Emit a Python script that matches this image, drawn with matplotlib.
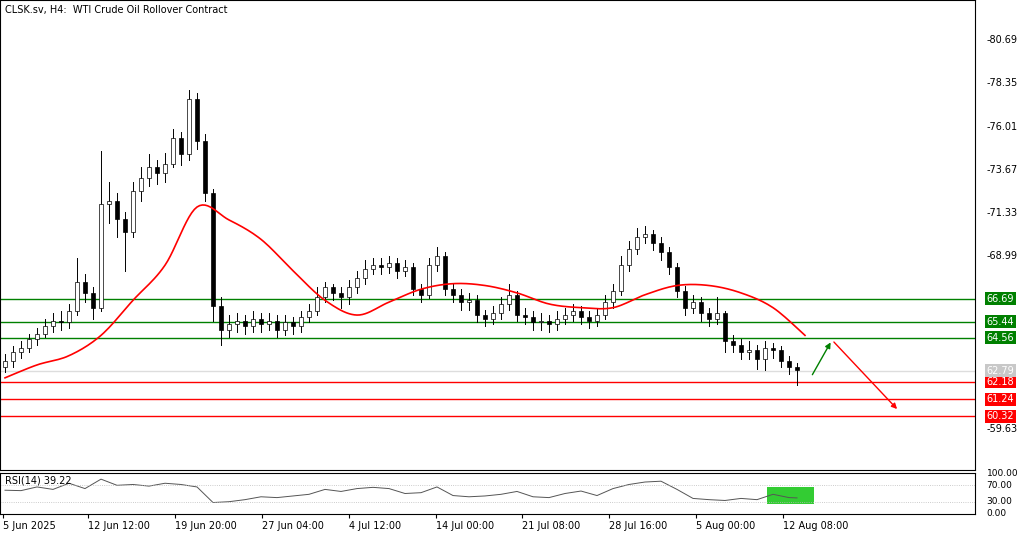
import matplotlib
matplotlib.use("Agg")
import matplotlib.pyplot as plt
import matplotlib.transforms as mtransforms
from matplotlib.patches import Rectangle
import numpy as np

closes = [63.3,63.8,64.0,64.5,64.8,65.2,65.5,65.4,66.0,67.6,67.0,66.2,71.8,72.0,71.0,70.3,72.5,73.2,73.8,73.5,
          74.0,75.4,74.5,77.5,75.2,72.4,66.3,65.0,65.3,65.5,65.2,65.6,65.3,65.5,65.0,65.4,65.2,65.7,66.0,66.8,
          67.3,67.0,66.8,67.3,67.8,68.3,68.5,68.4,68.6,68.2,68.4,67.2,66.9,68.5,69.0,67.2,66.9,66.5,66.6,65.8,
          65.6,65.9,66.4,66.9,65.8,65.7,65.4,65.5,65.3,65.6,65.8,66.0,65.7,65.5,65.8,66.5,67.1,68.5,69.4,70.0,
          70.2,69.7,69.2,68.4,67.1,66.2,66.5,65.9,65.6,65.9,64.4,64.2,63.8,63.9,63.4,64.0,63.9,63.3,63.0,62.8]
highs = [63.7,64.1,64.4,64.8,65.1,65.6,65.9,66.0,66.4,68.9,68.0,67.3,74.7,73.0,72.4,71.4,73.0,73.8,74.5,74.2,
         74.6,75.9,75.7,78.0,77.8,75.6,72.6,66.8,65.8,65.9,65.8,66.0,65.9,65.9,65.8,65.8,65.7,66.0,66.4,67.3,
         67.6,67.5,67.3,67.7,68.2,68.8,68.9,68.9,69.0,68.9,68.8,68.6,67.5,68.9,69.5,69.2,67.5,67.2,67.0,66.9,
         66.1,66.3,66.8,67.5,67.1,66.2,66.0,65.9,65.8,66.0,66.2,66.4,66.3,66.0,66.2,66.9,67.5,69.0,69.8,70.5,
         70.6,70.4,70.0,69.5,68.6,67.4,66.9,66.8,66.2,66.8,66.0,64.7,64.5,64.4,64.2,64.4,64.3,64.1,63.6,63.2]
lows = [62.7,63.0,63.5,63.8,64.2,64.6,64.9,65.0,65.1,65.8,66.5,65.6,66.0,70.8,70.0,68.2,70.0,72.0,72.8,72.9,
        73.0,73.8,73.9,74.2,74.8,72.0,65.5,64.2,64.6,64.9,64.8,64.9,64.9,65.0,64.6,64.7,64.8,64.9,65.4,65.8,
        66.5,66.6,66.2,66.4,67.0,67.5,68.0,68.0,68.1,67.8,67.9,66.9,66.5,66.7,68.2,66.9,66.5,66.1,66.1,65.4,
        65.2,65.3,65.6,66.1,65.5,65.3,65.0,65.0,64.9,65.0,65.3,65.5,65.3,65.1,65.2,65.6,66.2,66.9,68.2,69.1,
        69.7,69.3,68.8,68.0,66.8,65.8,65.9,65.5,65.2,65.3,63.8,63.8,63.4,63.4,62.9,62.8,63.5,63.0,62.6,62.0]
first_open = 63.0

ma_values = [62.4,63.1,63.6,64.7,66.6,68.5,71.65,70.95,69.9,68.2,66.6,65.8,66.5,67.2,67.5,67.4,67.0,66.4,
             66.2,66.2,66.9,67.4,67.4,67.0,66.2,64.7]
rsi_values = [58,57,66,60,75,62,85,70,72,68,75,72,66,28,30,35,42,40,44,48,60,55,62,65,62,50,52,66,45,42,
              44,48,55,42,40,50,56,45,62,72,78,80,60,38,35,33,38,35,48,40,39.22]

green_levels = [66.69, 65.44, 64.56]
red_levels = [62.18, 61.24, 60.32]
current_price = 62.79
axis_ticks = [80.69, 78.35, 76.01, 73.67, 71.33, 68.99, 59.63]
x_tick_labels = ["5 Jun 2025","12 Jun 12:00","19 Jun 20:00","27 Jun 04:00","4 Jul 12:00",
                 "14 Jul 00:00","21 Jul 08:00","28 Jul 16:00","5 Aug 00:00","12 Aug 08:00"]
x_tick_px = [3, 88, 175, 262, 349, 436, 522, 609, 696, 783]

def px2i(px):
    return (px - 5) / 8.0

def smooth(xs, ys, n=12):
    # Catmull-Rom curve through the given points (drawing only)
    xs = np.asarray(xs, float); ys = np.asarray(ys, float)
    P = np.column_stack([xs, ys])
    P = np.vstack([P[0], P, P[-1]])
    out = []
    t = np.linspace(0, 1, n, endpoint=False)[:, None]
    for k in range(1, len(P) - 2):
        p0, p1, p2, p3 = P[k-1], P[k], P[k+1], P[k+2]
        seg = 0.5 * ((2*p1) + (-p0 + p2)*t + (2*p0 - 5*p1 + 4*p2 - p3)*t**2 + (-p0 + 3*p1 - 3*p2 + p3)*t**3)
        out.append(seg)
    out.append(P[-2][None, :])
    out = np.vstack(out)
    return out[:, 0], out[:, 1]

fig = plt.figure(figsize=(10.24, 5.33), dpi=100)
ax = fig.add_axes([0, 63/533, 975/1024, 470/533])
rax = fig.add_axes([0, 19/533, 975/1024, 41/533])
ax.set_xlim(px2i(0), px2i(975))
rax.set_xlim(px2i(0), px2i(975))
ax.set_ylim(57.41, 82.86)
rax.set_ylim(0, 100)

opens = [first_open] + closes[:-1]
for i, (o, h, l, c) in enumerate(zip(opens, highs, lows, closes)):
    ax.plot([i, i], [l, h], color="black", lw=0.7, zorder=3)
    fc = "white" if c >= o else "black"
    ax.add_patch(Rectangle((i - 0.25, min(o, c)), 0.5, max(abs(c - o), 0.05),
                           facecolor=fc, edgecolor="black", lw=0.5, zorder=4))

ma_x = list(range(0, 101, 4))
sx, sy = smooth(ma_x, ma_values)
ax.plot(sx, sy, color="red", lw=1.2, zorder=5)

trans = mtransforms.blended_transform_factory(ax.transAxes, ax.transData)
for lv in green_levels:
    ax.axhline(lv, color="green", lw=1.0, zorder=2)
for lv in red_levels:
    ax.axhline(lv, color="red", lw=1.0, zorder=2)
ax.axhline(current_price, color="#dddddd", lw=1.0, zorder=1)

for t in axis_ticks:
    ax.text(1.012, t, "-" + f"{t:.2f}", transform=trans, fontsize=7, va="center", ha="left", clip_on=False)
def box(lv, col, tc="white"):
    ax.text(1.012, lv, f"{lv:.2f}", transform=trans, fontsize=7, va="center", ha="left", color=tc,
            clip_on=False, bbox=dict(boxstyle="square,pad=0.15", facecolor=col, edgecolor="none"))
for lv in green_levels:
    box(lv, "green")
for lv in red_levels:
    box(lv, "red")
box(current_price, "#c8c8c8")

ax.annotate("", xy=(px2i(832), 64.45), xytext=(px2i(811), 62.44),
            arrowprops=dict(arrowstyle="-|>", color="green", lw=1.0, mutation_scale=8))
ax.annotate("", xy=(px2i(899), 60.60), xytext=(px2i(832), 64.45),
            arrowprops=dict(arrowstyle="-|>", color="red", lw=1.0, mutation_scale=8))

ax.text(0.005, 0.99, "CLSK.sv, H4:  WTI Crude Oil Rollover Contract", transform=ax.transAxes,
        fontsize=7, va="top", ha="left")
ax.set_xticks([])
ax.set_yticks([])

rsi_x = list(range(0, 100, 2)) + [99]
rax.plot(rsi_x, rsi_values, color="#555555", lw=0.7)
for lv in [70, 30]:
    rax.axhline(lv, color="#bbbbbb", lw=0.6, ls=":")
rax.add_patch(Rectangle((px2i(767), 25), px2i(814) - px2i(767), 42, facecolor="#33cc33", edgecolor="none", zorder=0))
rax.text(0.005, 0.95, "RSI(14) 39.22", transform=rax.transAxes, fontsize=7, va="top", ha="left")
rtrans = mtransforms.blended_transform_factory(rax.transAxes, rax.transData)
for lv, s in [(100, "100.00"), (70, "70.00"), (30, "30.00"), (0, "0.00")]:
    rax.text(1.012, lv, s, transform=rtrans, fontsize=6.5, va="center", ha="left", clip_on=False)
rax.set_yticks([])
rax.set_xticks([px2i(p) for p in x_tick_px])
rax.set_xticklabels(x_tick_labels, fontsize=7, ha="left")
rax.tick_params(axis="x", length=3, pad=2)

fig.savefig("out.png", dpi=100)
